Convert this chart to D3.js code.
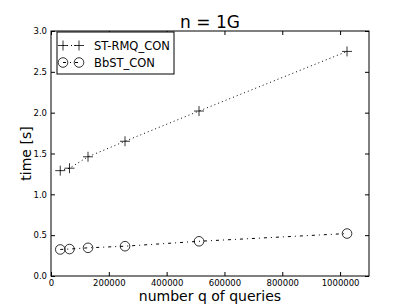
<!DOCTYPE html>
<html>
<head>
<meta charset="utf-8">
<script src="https://cdn.jsdelivr.net/npm/d3@7"></script>
<style>
  body { margin: 0; background: #fff; }
  text { font-family: "DejaVu Sans", sans-serif; }
</style>
</head>
<body>
<div id="chart"></div>
<script>
// query counts (x values)
const queries = [32000, 64000, 128000, 256000, 512000, 1024000];
// times in seconds
const stRmq = [1.29, 1.32, 1.46, 1.65, 2.02, 2.75];
const bbst = [0.325, 0.33, 0.345, 0.365, 0.425, 0.52];
const xTicks = [0, 200000, 400000, 600000, 800000, 1000000];
const yTicks = [0.0, 0.5, 1.0, 1.5, 2.0, 2.5, 3.0];

const width = 411, height = 308;
const margin = { top: 31, right: 42, bottom: 32, left: 51 };
const w = width - margin.left - margin.right;
const h = height - margin.top - margin.bottom;

const svg = d3.select("#chart").append("svg")
    .attr("width", width)
    .attr("height", height);

const g = svg.append("g")
    .attr("transform", `translate(${margin.left},${margin.top})`);

const x = d3.scaleLinear().domain([0, 1100000]).range([0, w]);
const y = d3.scaleLinear().domain([0, 3]).range([h, 0]);

// axes with inward ticks on all four sides
g.append("g")
    .attr("transform", `translate(0,${h})`)
    .call(d3.axisBottom(x).tickValues(xTicks).tickSize(-4).tickPadding(3.5).tickFormat(d3.format("d")))
    .call(a => a.select(".domain").remove());
g.append("g")
    .call(d3.axisTop(x).tickValues(xTicks).tickSize(-4).tickFormat(""))
    .call(a => a.select(".domain").remove());
g.append("g")
    .call(d3.axisLeft(y).tickValues(yTicks).tickSize(-4).tickPadding(4).tickFormat(d3.format(".1f")))
    .call(a => a.select(".domain").remove());
g.append("g")
    .attr("transform", `translate(${w},0)`)
    .call(d3.axisRight(y).tickValues(yTicks).tickSize(-4).tickFormat(""))
    .call(a => a.select(".domain").remove());

g.selectAll(".tick text").attr("font-size", 8.5).attr("fill", "#000");
g.selectAll(".tick line").attr("stroke", "#000");

g.append("rect")
    .attr("width", w).attr("height", h)
    .attr("fill", "none").attr("stroke", "#000").attr("stroke-width", 1);

const line = d3.line().x(d => x(d[0])).y(d => y(d[1]));
const plusPath = "M-5,0H5M0,-5V5";
const dotted = "1,3";
const dashDot = "3,4,1,4";

// ST-RMQ_CON: dotted line, plus markers
const d1 = queries.map((q, i) => [q, stRmq[i]]);
g.append("path").datum(d1)
    .attr("d", line).attr("fill", "none").attr("stroke", "#000")
    .attr("stroke-width", 1).attr("stroke-dasharray", dotted);
g.selectAll(".plus").data(d1).enter().append("path")
    .attr("transform", d => `translate(${x(d[0])},${y(d[1])})`)
    .attr("d", plusPath)
    .attr("stroke", "#000").attr("stroke-width", 0.8).attr("fill", "none");

// BbST_CON: dash-dot line, open circles
const d2 = queries.map((q, i) => [q, bbst[i]]);
g.append("path").datum(d2)
    .attr("d", line).attr("fill", "none").attr("stroke", "#000")
    .attr("stroke-width", 1).attr("stroke-dasharray", dashDot);
g.selectAll(".circ").data(d2).enter().append("circle")
    .attr("cx", d => x(d[0])).attr("cy", d => y(d[1])).attr("r", 4.8)
    .attr("fill", "none").attr("stroke", "#000").attr("stroke-width", 0.8);

// legend
const lg = g.append("g").attr("transform", "translate(6,1)");
lg.append("rect").attr("width", 117).attr("height", 42)
    .attr("fill", "#fff").attr("stroke", "#000").attr("stroke-width", 1);
const entries = [
  { name: "ST-RMQ_CON", dash: dotted, marker: "plus" },
  { name: "BbST_CON", dash: dashDot, marker: "circle" }
];
entries.forEach((e, i) => {
  const yy = 13.5 + i * 17;
  lg.append("line").attr("x1", 6).attr("x2", 22).attr("y1", yy).attr("y2", yy)
      .attr("stroke", "#000").attr("stroke-width", 1).attr("stroke-dasharray", e.dash);
  [6, 22].forEach(xx => {
    if (e.marker === "plus") {
      lg.append("path").attr("transform", `translate(${xx},${yy})`)
          .attr("d", plusPath).attr("stroke", "#000").attr("stroke-width", 0.8);
    } else {
      lg.append("circle").attr("cx", xx).attr("cy", yy).attr("r", 4.8)
          .attr("fill", "none").attr("stroke", "#000").attr("stroke-width", 0.8);
    }
  });
  lg.append("text").attr("x", 37).attr("y", yy).attr("dy", "0.35em")
      .attr("font-size", 11.5).text(e.name);
});

// title and axis labels
svg.append("text").attr("x", margin.left + w / 2).attr("y", 28)
    .attr("text-anchor", "middle").attr("font-size", 17).text("n = 1G");
svg.append("text").attr("x", margin.left + w / 2).attr("y", 301)
    .attr("text-anchor", "middle").attr("font-size", 14).text("number q of queries");
svg.append("text")
    .attr("transform", `translate(31,${margin.top + h / 2}) rotate(-90)`)
    .attr("text-anchor", "middle").attr("font-size", 14).text("time [s]");
</script>
</body>
</html>
